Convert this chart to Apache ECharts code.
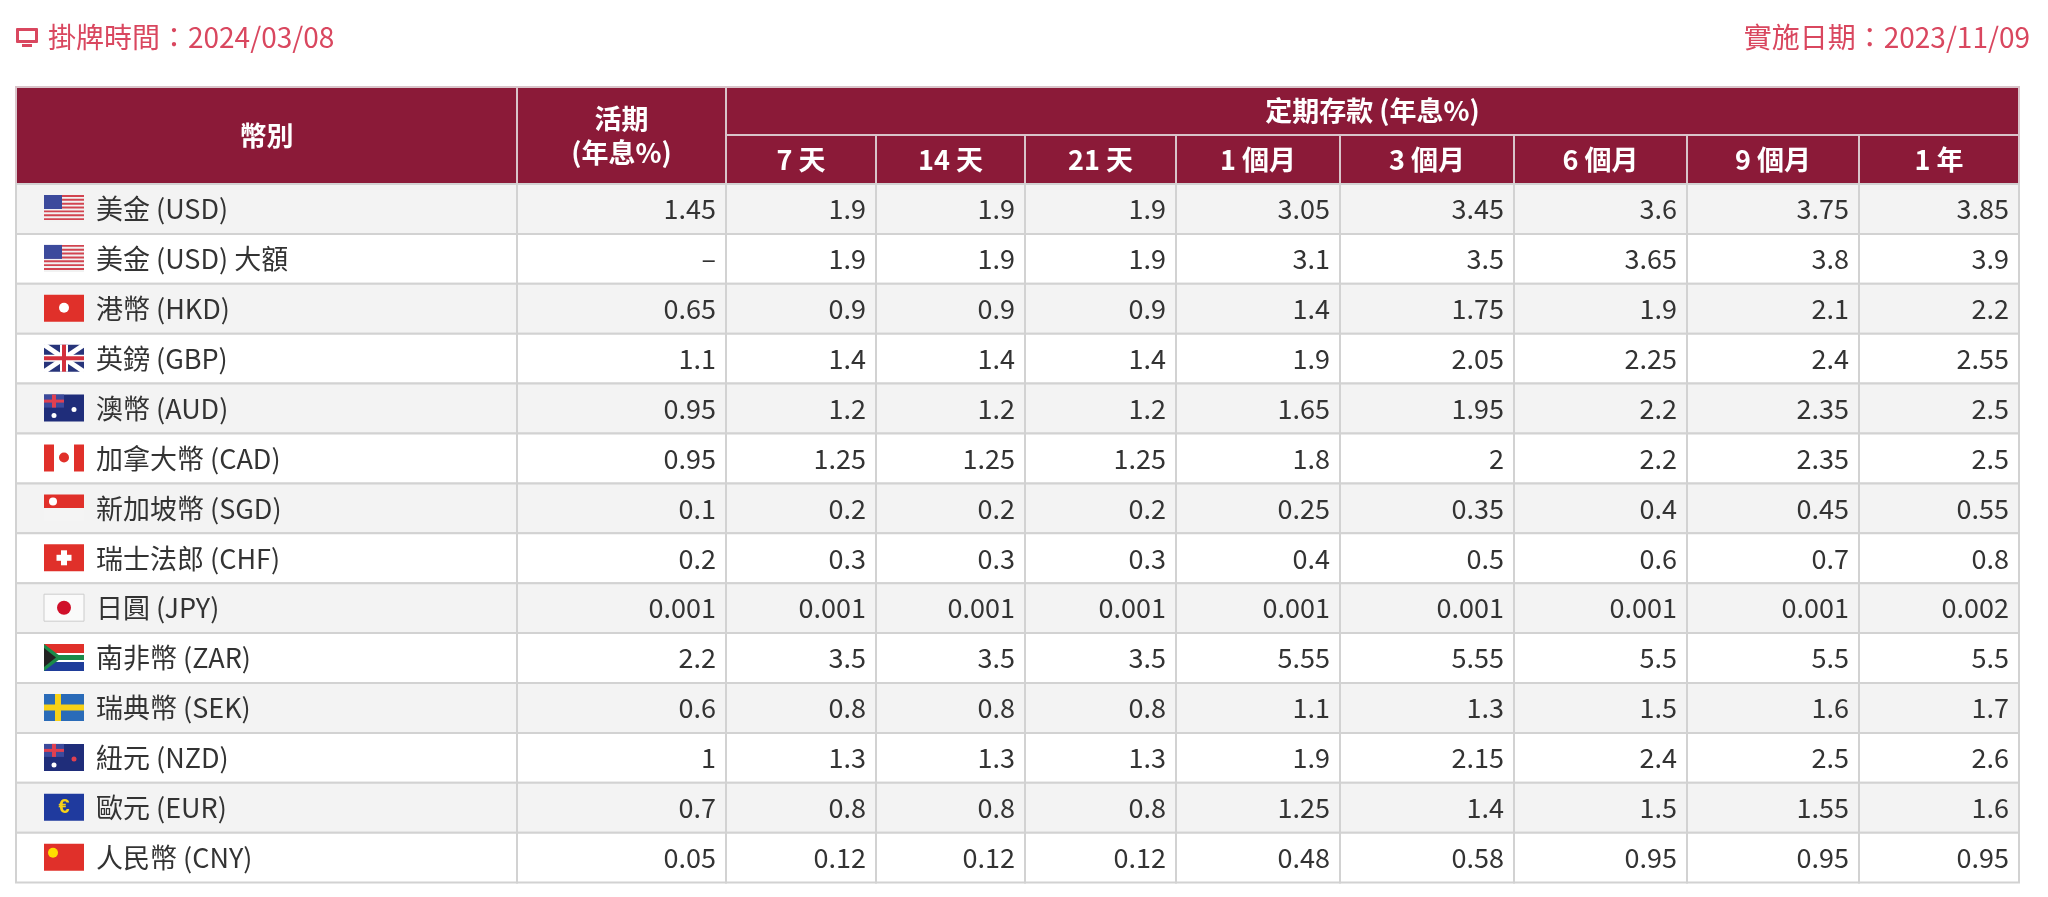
<!DOCTYPE html>
<html><head><meta charset="utf-8">
<script src="https://cdn.jsdelivr.net/npm/echarts@6/dist/echarts.min.js"></script>
<style>html,body{margin:0;padding:0;background:#fff}#main{width:2048px;height:897px}</style>
</head><body><div id="main"></div>
<script>
// 資料
var currencies = ['美金 (USD)','美金 (USD) 大額','港幣 (HKD)','英鎊 (GBP)','澳幣 (AUD)','加拿大幣 (CAD)','新加坡幣 (SGD)','瑞士法郎 (CHF)','日圓 (JPY)','南非幣 (ZAR)','瑞典幣 (SEK)','紐元 (NZD)','歐元 (EUR)','人民幣 (CNY)'];
var flagCodes = ['US','US','HK','GB','AU','CA','SG','CH','JP','ZA','SE','NZ','EU','CN'];
var terms = ['7 天','14 天','21 天','1 個月','3 個月','6 個月','9 個月','1 年'];
var demand = ['1.45','–','0.65','1.1','0.95','0.95','0.1','0.2','0.001','2.2','0.6','1','0.7','0.05'];
var rates = [
    ['1.9','1.9','1.9','3.05','3.45','3.6','3.75','3.85'],
    ['1.9','1.9','1.9','3.1','3.5','3.65','3.8','3.9'],
    ['0.9','0.9','0.9','1.4','1.75','1.9','2.1','2.2'],
    ['1.4','1.4','1.4','1.9','2.05','2.25','2.4','2.55'],
    ['1.2','1.2','1.2','1.65','1.95','2.2','2.35','2.5'],
    ['1.25','1.25','1.25','1.8','2','2.2','2.35','2.5'],
    ['0.2','0.2','0.2','0.25','0.35','0.4','0.45','0.55'],
    ['0.3','0.3','0.3','0.4','0.5','0.6','0.7','0.8'],
    ['0.001','0.001','0.001','0.001','0.001','0.001','0.001','0.002'],
    ['3.5','3.5','3.5','5.55','5.55','5.5','5.5','5.5'],
    ['0.8','0.8','0.8','1.1','1.3','1.5','1.6','1.7'],
    ['1.3','1.3','1.3','1.9','2.15','2.4','2.5','2.6'],
    ['0.8','0.8','0.8','1.25','1.4','1.5','1.55','1.6'],
    ['0.12','0.12','0.12','0.48','0.58','0.95','0.95','0.95']
];
var postDate = '2024/03/08';
var effectDate = '2023/11/09';

// 版面
var colEdges = [16, 517, 726, 876, 1025, 1176, 1340, 1514, 1687, 1859, 2019];
var tableTop = 87, headMid = 135, headBottom = 184, rowH = 49.9;
var red = '#8b1a38', lineC = '#d2d2d2', font = '"Noto Sans CJK TC","Noto Sans",sans-serif';

// 每格: [欄, 列], 文字另存
var cells = [], cellText = [];
currencies.forEach(function (c, r) {
    cells.push([0, r]); cellText.push(c);
    cells.push([1, r]); cellText.push(demand[r]);
    rates[r].forEach(function (v, k) { cells.push([k + 2, r]); cellText.push(v); });
});

function flag(code, x, y) {
    var w = 40, h = 27, els = [];
    function rect(rx, ry, rw, rh, c) { els.push({type:'rect', shape:{x:x+rx, y:y+ry, width:rw, height:rh}, style:{fill:c}}); }
    if (code === 'US') {
        rect(0, 0, w, h, '#f2f2f2');
        for (var i = 0; i < 7; i++) rect(0, i * h / 7, w, h / 14, '#d24450');
        rect(0, 0, 18, 14, '#3c4a9c');
    } else if (code === 'HK' || code === 'CN') {
        rect(0, 0, w, h, '#e0302a');
        els.push({type:'circle', shape:{cx:x + (code === 'CN' ? 9 : 20), cy:y + (code === 'CN' ? 9 : 13), r:5}, style:{fill: code === 'CN' ? '#ffdd00' : '#fff'}});
    } else if (code === 'GB') {
        rect(0, 0, w, h, '#27347a');
        els.push({type:'line', shape:{x1:x, y1:y, x2:x + w, y2:y + h}, style:{stroke:'#fff', lineWidth:5}});
        els.push({type:'line', shape:{x1:x + w, y1:y, x2:x, y2:y + h}, style:{stroke:'#fff', lineWidth:5}});
        rect(16, 0, 8, h, '#fff'); rect(0, 10, w, 7, '#fff');
        rect(18, 0, 4, h, '#d3303c'); rect(0, 11.5, w, 4, '#d3303c');
    } else if (code === 'AU' || code === 'NZ') {
        rect(0, 0, w, h, '#1f2d7a');
        rect(0, 0, 20, 13, '#3c4a9c'); rect(8, 0, 4, 13, '#e04050'); rect(0, 5, 20, 3, '#e04050');
        els.push({type:'circle', shape:{cx:x + 30, cy:y + 15, r:2.5}, style:{fill: code === 'AU' ? '#fff' : '#e04050'}});
        els.push({type:'circle', shape:{cx:x + 10, cy:y + 21, r:2.5}, style:{fill:'#fff'}});
    } else if (code === 'CA') {
        rect(0, 0, w, h, '#fff'); rect(0, 0, 10, h, '#e0302a'); rect(30, 0, 10, h, '#e0302a');
        els.push({type:'circle', shape:{cx:x + 20, cy:y + 13, r:5}, style:{fill:'#e0302a'}});
    } else if (code === 'SG') {
        rect(0, 0, w, h / 2, '#e0302a'); rect(0, h / 2, w, h / 2, '#f4f4f4');
        els.push({type:'circle', shape:{cx:x + 9, cy:y + 7, r:4}, style:{fill:'#fff'}});
    } else if (code === 'CH') {
        rect(0, 0, w, h, '#e0302a'); rect(17, 6, 6, 15, '#fff'); rect(12.5, 10.5, 15, 6, '#fff');
    } else if (code === 'JP') {
        els.push({type:'rect', shape:{x:x, y:y, width:w, height:h}, style:{fill:'#fafafa', stroke:'#ccc'}});
        els.push({type:'circle', shape:{cx:x + 20, cy:y + 13.5, r:7}, style:{fill:'#d0102a'}});
    } else if (code === 'ZA') {
        rect(0, 0, w, h / 2, '#e0302a'); rect(0, h / 2, w, h / 2, '#1f3d9a');
        rect(0, 9, w, 9, '#fff'); rect(0, 11, w, 5, '#1b8a4a');
        els.push({type:'polygon', shape:{points:[[x, y], [x + 18, y + 13.5], [x, y + h]]}, style:{fill:'#1b8a4a'}});
        els.push({type:'polygon', shape:{points:[[x, y + 4], [x + 12, y + 13.5], [x, y + h - 4]]}, style:{fill:'#222'}});
    } else if (code === 'SE') {
        rect(0, 0, w, h, '#2a6bb8'); rect(11, 0, 6, h, '#f7d117'); rect(0, 10.5, w, 6, '#f7d117');
    } else if (code === 'EU') {
        rect(0, 0, w, h, '#1f3a9e');
        els.push({type:'text', style:{x:x + 20, y:y + 14, text:'€', fill:'#f7d117', font:'bold 20px sans-serif', align:'center', verticalAlign:'middle'}});
    }
    return els;
}

function renderCell(params, api) {
    var col = api.value(0), row = api.value(1);
    var p0 = api.coord([colEdges[col], row]);
    var p1 = api.coord([colEdges[col + 1], row]);
    var bh = api.size([0, 1])[1];
    var top = p0[1] - bh / 2;
    var children = [{type:'rect', shape:{x:p0[0], y:top, width:p1[0] - p0[0], height:bh},
        style:{fill: row % 2 === 0 ? '#f3f3f3' : '#ffffff', stroke:lineC, lineWidth:2}}];
    var txt = cellText[params.dataIndex];
    if (col === 0) {
        children = children.concat(flag(flagCodes[row], p0[0] + 28, top + 11));
        children.push({type:'text', style:{x:p0[0] + 80, y:p0[1], text:txt, fill:'#333', font:'27px ' + font, verticalAlign:'middle'}});
    } else {
        children.push({type:'text', style:{x:p1[0] - 10, y:p0[1], text:txt, fill:'#333', font:'27px ' + font, align:'right', verticalAlign:'middle'}});
    }
    return {type:'group', children:children};
}

var graphics = [];
function headCell(x1, y1, x2, y2, lines) {
    graphics.push({type:'rect', shape:{x:x1, y:y1, width:x2 - x1, height:y2 - y1}, style:{fill:red, stroke:'#d9c4ca', lineWidth:2}});
    graphics.push({type:'text', style:{x:(x1 + x2) / 2, y:(y1 + y2) / 2, text:lines, fill:'#fff', font:'bold 27px ' + font, align:'center', verticalAlign:'middle', lineHeight:34}});
}
headCell(colEdges[0], tableTop, colEdges[1], headBottom, '幣別');
headCell(colEdges[1], tableTop, colEdges[2], headBottom, '活期\n(年息%)');
headCell(colEdges[2], tableTop, colEdges[10], headMid, '定期存款 (年息%)');
terms.forEach(function (t, k) { headCell(colEdges[k + 2], headMid, colEdges[k + 3], headBottom, t); });
// 標題
graphics.push({type:'rect', shape:{x:16, y:28, width:22, height:15, r:1}, style:{fill:'#d9475f'}});
graphics.push({type:'rect', shape:{x:19, y:31, width:16, height:9}, style:{fill:'#fff'}});
graphics.push({type:'rect', shape:{x:22, y:44, width:10, height:3}, style:{fill:'#d9475f'}});
graphics.push({type:'text', style:{x:48, y:37, text:'掛牌時間：' + postDate, fill:'#d9475f', font:'28px ' + font, verticalAlign:'middle'}});
graphics.push({type:'text', style:{x:2030, y:37, text:'實施日期：' + effectDate, fill:'#d9475f', font:'28px ' + font, align:'right', verticalAlign:'middle'}});

var myChart = echarts.init(document.getElementById('main'));
myChart.setOption({
    animation: false,
    grid: {left: 0, right: 0, top: headBottom, height: rowH * currencies.length},
    xAxis: {type:'value', min:0, max:2048, show:false},
    yAxis: {type:'category', data:currencies, inverse:true, show:false},
    graphic: graphics,
    series: [{type:'custom', renderItem:renderCell, data:cells, encode:{x:0, y:1}, clip:false}]
});
</script></body></html>
